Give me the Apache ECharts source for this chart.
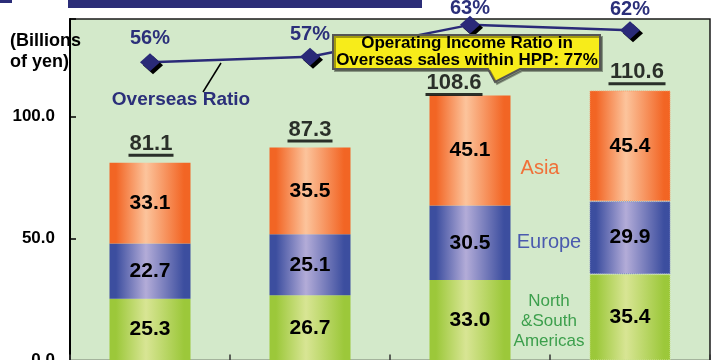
<!DOCTYPE html>
<html><head><meta charset="utf-8">
<script src="https://cdn.jsdelivr.net/npm/echarts@6/dist/echarts.min.js"></script>
<style>html,body{margin:0;padding:0;overflow:hidden;background:#fff}#c{width:715px;height:362px}</style>
</head><body><div id="c"></div>
<script>
const categories = ['Period 1', 'Period 2', 'Period 3', 'Period 4'];
const americas = [25.3, 26.7, 33.0, 35.4];
const europe = [22.7, 25.1, 30.5, 29.9];
const asia = [33.1, 35.5, 45.1, 45.4];
const totals = [81.1, 87.3, 108.6, 110.6];
const overseasRatio = [56, 57, 63, 62];
const yTicks = [0, 50, 100];

const FONT = '"Liberation Sans", Arial, sans-serif';
const chart = echarts.init(document.getElementById('c'), null, {renderer: 'canvas'});

function grad(edge, mid) {
  return new echarts.graphic.LinearGradient(0, 0, 1, 0, [
    {offset: 0, color: edge}, {offset: 0.08, color: edge},
    {offset: 0.45, color: mid}, {offset: 0.92, color: edge}, {offset: 1, color: edge}
  ]);
}
const segLabel = {show: true, position: 'inside', fontSize: 21, fontWeight: 'bold', color: '#000', fontFamily: FONT,
  formatter: p => Number(p.value).toFixed(1)};
function barSeries(name, data, edge, mid, dot) {
  return {
    name, type: 'bar', stack: 't', barWidth: 81,
    data: data.map((v, i) => i === 3 ? {value: v, itemStyle: {borderType: 'dotted', borderWidth: 1, borderColor: dot}} : v),
    itemStyle: {color: grad(edge, mid)}, label: segLabel, z: 2
  };
}
const labelDist = [5, 3, -3, 2];
const totalDist = [5.5, 4.5, -1, 5];
const totalShift = [1, 0, -16, 7];

chart.setOption({
  animation: false,
  textStyle: {fontFamily: FONT},
  grid: {left: 70, right: 5, top: 19, bottom: 1.5, outerBoundsMode: 'none', containLabel: false,
    show: true, backgroundColor: '#d3e9ca', borderColor: '#1a1a1a', borderWidth: 1.5},
  xAxis: {type: 'category', data: categories,
    axisLine: {lineStyle: {color: '#000', width: 2}},
    axisTick: {show: true, inside: true, length: 6, lineStyle: {color: '#333', width: 1.5}},
    axisLabel: {show: false}},
  yAxis: [
    {type: 'value', min: 0, max: 140, interval: 50,
      axisLine: {show: true, lineStyle: {color: '#000', width: 2}},
      axisTick: {show: true, inside: true, length: 6, lineStyle: {color: '#000', width: 1.5}},
      splitLine: {show: false},
      axisLabel: {fontSize: 17, fontWeight: 'bold', color: '#000', margin: 15, fontFamily: FONT,
        formatter: v => yTicks.includes(v) ? v.toFixed(1) : ''}},
    {type: 'value', min: 0, max: 64.1, show: false, splitLine: {show: false}}
  ],
  series: [
    barSeries('North &South Americas', americas, '#9cc83a', '#d8e594', '#c8e08a'),
    barSeries('Europe', europe, '#3c4e9f', '#b3acd8', '#8890c8'),
    barSeries('Asia', asia, '#f26524', '#fcc49c', '#f59a6a'),
    {type: 'scatter', data: totals.map((v, i) => ({value: v, label: {distance: totalDist[i], offset: [totalShift[i], 0]}})),
      symbolSize: 1, itemStyle: {color: 'rgba(0,0,0,0)'}, z: 5,
      label: {show: true, position: 'top',
        formatter: p => { const s = Number(p.value).toFixed(1); return '{t|' + s + '}\n{u' + s.length + '|}'; },
        rich: {
          t: {fontSize: 22, fontWeight: 'bold', color: '#000', lineHeight: 20, fontFamily: FONT, align: 'center'},
          u4: {width: 45, height: 3, lineHeight: 3, backgroundColor: '#000', align: 'center'},
          u5: {width: 57, height: 3, lineHeight: 3, backgroundColor: '#000', align: 'center'}
        }}},
    {type: 'line', yAxisIndex: 1, z: 6,
      data: overseasRatio.map((v, i) => ({value: v, label: {distance: labelDist[i]}})),
      symbol: 'diamond', symbolSize: [20, 18],
      lineStyle: {color: '#2a2a78', width: 2.5},
      itemStyle: {color: '#2a2a78', shadowColor: '#000', shadowOffsetX: 3, shadowOffsetY: 3, shadowBlur: 0},
      label: {show: true, position: 'top', formatter: '{c}%', fontSize: 20, fontWeight: 'bold', color: '#2b2f7a', fontFamily: FONT}}
  ],
  graphic: [
    {type: 'rect', shape: {x: 68, y: 0, width: 354, height: 8}, style: {fill: '#2b2d78'}, z: 100},
    {type: 'rect', shape: {x: 0, y: 0, width: 12, height: 3}, style: {fill: '#2b2d78'}, z: 100},
    {type: 'text', x: 10, y: 31, z: 100, style: {text: '(Billions\nof yen)', font: 'bold 18px ' + FONT, fill: '#000', lineHeight: 21, align: 'left', verticalAlign: 'top'}},
    {type: 'line', shape: {x1: 203, y1: 92, x2: 221, y2: 63}, style: {stroke: '#000', lineWidth: 1.5}, z: 100},
    {type: 'text', x: 181, y: 100, z: 100, style: {text: 'Overseas Ratio', font: 'bold 19px ' + FONT, fill: '#2b2f7a', align: 'center', verticalAlign: 'middle'}},
    {type: 'polygon', z: 100, shape: {points: [[333, 35], [600, 35], [600, 69], [520, 69], [495, 82], [488, 69], [333, 69]]},
      style: {fill: '#f7ec1a', stroke: '#555', lineWidth: 2, shadowColor: 'rgba(0,0,0,0.35)', shadowOffsetX: 2, shadowOffsetY: 2, shadowBlur: 0}},
    {type: 'text', x: 467, y: 52, z: 101, style: {text: 'Operating Income Ratio in\nOverseas sales within HPP: 77%', font: 'bold 17px ' + FONT, fill: '#000', lineHeight: 17, align: 'center', verticalAlign: 'middle'}},
    {type: 'text', x: 540, y: 168, z: 100, style: {text: 'Asia', font: '20px ' + FONT, fill: '#f07038', align: 'center', verticalAlign: 'middle'}},
    {type: 'text', x: 549, y: 242, z: 100, style: {text: 'Europe', font: '20px ' + FONT, fill: '#4a5aae', align: 'center', verticalAlign: 'middle'}},
    {type: 'text', x: 549, y: 321, z: 100, style: {text: 'North\n&South\nAmericas', font: '17px ' + FONT, fill: '#3c9f4c', lineHeight: 20, align: 'center', verticalAlign: 'middle'}}
  ]
});
</script></body></html>
